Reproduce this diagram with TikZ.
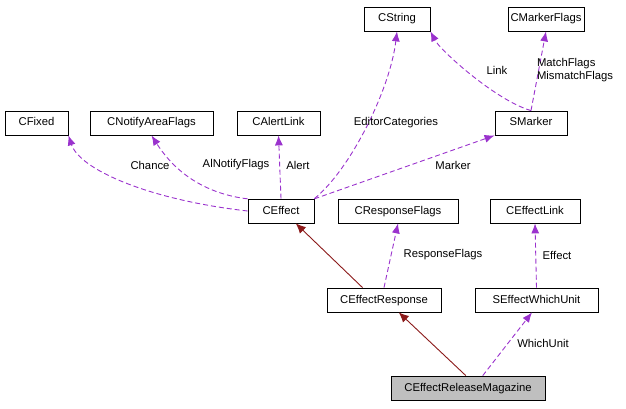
\documentclass[tikz,border=0pt]{standalone}
\usepackage{fontspec}
\setmainfont{Liberation Sans}
\usetikzlibrary{arrows.meta}
\begin{document}
\begin{tikzpicture}[x=1pt,y=-1pt,font=\fontsize{11.3}{12.5}\selectfont,
  box/.style={draw,line width=0.8pt,inner sep=0pt,minimum height=24pt,text height=8pt,text depth=2pt},
  use/.style={draw={rgb,255:red,154;green,50;blue,205},line width=0.9pt,dash pattern=on 5pt off 3pt,-{Latex[length=10pt,width=8pt]}},
  inh/.style={draw={rgb,255:red,139;green,26;blue,26},line width=0.9pt,-{Latex[length=10pt,width=9pt]}},
  lab/.style={inner sep=1pt,align=left}]
\useasboundingbox (0,0) rectangle (626,409);
\node[box,minimum width=66pt] (cstring) at (397,19) {CString};
\node[box,minimum width=76pt] (cmf) at (546,19) {CMarkerFlags};
\node[box,minimum width=63pt] (cfixed) at (36.5,123) {CFixed};
\node[box,minimum width=123pt] (cnaf) at (151.5,123) {CNotifyAreaFlags};
\node[box,minimum width=83pt] (cal) at (278.5,123) {CAlertLink};
\node[box,minimum width=72pt] (sm) at (531,123) {SMarker};
\node[box,minimum width=66pt] (ce) at (281,211) {CEffect};
\node[box,minimum width=120pt] (crf) at (398,211) {CResponseFlags};
\node[box,minimum width=90pt] (cel) at (535,211) {CEffectLink};
\node[box,minimum width=114pt] (cer) at (384,300) {CEffectResponse};
\node[box,minimum width=123pt] (sewu) at (536.5,300) {SEffectWhichUnit};
\node[box,minimum width=154pt,fill={rgb,255:red,191;green,191;blue,191}] (cerm) at (468,388) {CEffectReleaseMagazine};

\draw[use] (ce.west) .. controls (150,200) and (80,170) .. (cfixed.south east);
\draw[use] (ce.160) .. controls (215,195) and (180,180) .. (cnaf.south);
\draw[use] (ce.north) -- (cal.south);
\draw[use] (ce.north east) .. controls (350,170) and (390,90) .. (cstring.south);
\draw[use] (ce.20) -- (sm.south west);
\draw[use] (sm.north) .. controls (495,100) and (440,50) .. (cstring.south east);
\draw[use] (sm.north) -- (cmf.south);
\draw[use] (cer.north) -- (crf.south);
\draw[use] (sewu.north) -- (cel.south);
\draw[use] (cerm.40) -- (sewu.250);
\draw[inh] (cer.150) -- (ce.-40);
\draw[inh] (cerm.100) -- (cer.-40);

\node[lab] at (150,165) {Chance};
\node[lab] at (236,165) {AlNotifyFlags};
\node[lab] at (298,165) {Alert};
\node[lab] at (396,123) {EditorCategories};
\node[lab] at (453,165) {Marker};
\node[lab] at (497,70) {Link};
\node[lab] at (575,70) {MatchFlags\\MismatchFlags};
\node[lab] at (443,255) {ResponseFlags};
\node[lab] at (557,255) {Effect};
\node[lab] at (543,343) {WhichUnit};
\end{tikzpicture}
\end{document}
